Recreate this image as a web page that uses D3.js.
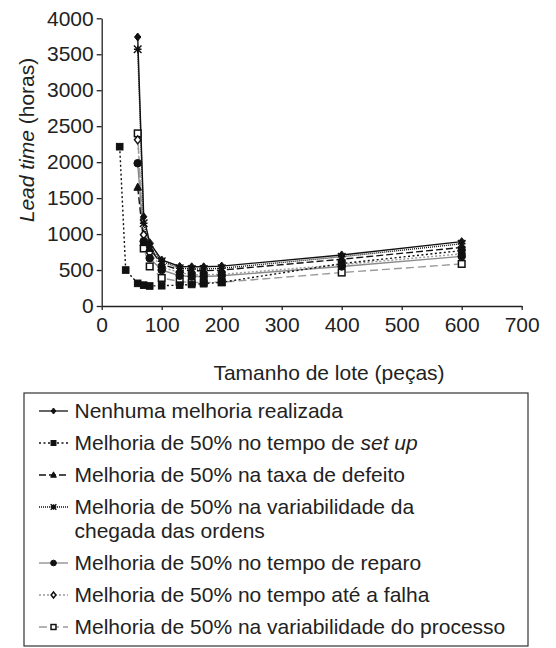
<!DOCTYPE html>
<html><head><meta charset="utf-8">
<script src="https://cdn.jsdelivr.net/npm/d3@7"></script>
<style>
html,body{margin:0;padding:0;background:#fff;}
svg{display:block;font-family:"Liberation Sans",Arial,sans-serif;}
svg text{font-family:"Liberation Sans",Arial,sans-serif;}
</style></head>
<body>
<svg id="chart" width="556" height="648"></svg>
<script>
// ---- data ----
const lotSizes = [60, 70, 80, 100, 130, 150, 170, 200, 400, 600];
const setupLotSizes = [30, 40, 60, 70, 80, 100, 130, 150, 170, 200, 400, 600];
const nenhuma  = [3740, 1240, 880, 640, 550, 545, 545, 555, 710, 895];
const setupVals = [2215, 500, 315, 290, 278, 282, 290, 300, 310, 330, 590, 770];
const defeito  = [1650, 880, 800, 580, 500, 490, 490, 500, 650, 815];
const chegada  = [3570, 1150, 820, 620, 525, 515, 515, 525, 685, 865];
const reparo   = [1985, 900, 665, 500, 420, 410, 410, 420, 550, 690];
const falha    = [2310, 990, 740, 540, 465, 435, 435, 440, 575, 725];
const processo = [2400, 800, 550, 390, 340, 325, 328, 330, 465, 585];
const xTicks = [0, 100, 200, 300, 400, 500, 600, 700];
const yTicks = [0, 500, 1000, 1500, 2000, 2500, 3000, 3500, 4000];
const legendLabels = [
  ["Nenhuma melhoria realizada"],
  ["Melhoria de 50% no tempo de ", "set up"],
  ["Melhoria de 50% na taxa de defeito"],
  ["Melhoria de 50% na variabilidade da", "chegada das ordens"],
  ["Melhoria de 50% no tempo de reparo"],
  ["Melhoria de 50% no tempo até a falha"],
  ["Melhoria de 50% na variabilidade do processo"]
];

// ---- series styling ----
const series = [
  {xs: lotSizes, ys: nenhuma, color: "#111", dash: null, width: 1.4, marker: "diamond", fill: "#111"},
  {xs: setupLotSizes, ys: setupVals, color: "#111", dash: "2,2.5", width: 1.4, marker: "square", fill: "#111"},
  {xs: lotSizes, ys: defeito, color: "#111", dash: "7,3", width: 1.4, marker: "triangle", fill: "#111"},
  {xs: lotSizes, ys: chegada, color: "#111", dash: "1,1", width: 1.4, marker: "asterisk", fill: "#111"},
  {xs: lotSizes, ys: reparo, color: "#8a8a8a", dash: null, width: 1.4, marker: "circle", fill: "#111"},
  {xs: lotSizes, ys: falha, color: "#9a9a9a", dash: "2,2", width: 1.4, marker: "odiamond", fill: "#fff"},
  {xs: lotSizes, ys: processo, color: "#9a9a9a", dash: "8,4", width: 1.4, marker: "osquare", fill: "#fff"}
];

const svg = d3.select("#chart");
const FS = 21;
const FF = "'Liberation Sans', Arial, sans-serif";
const x = d3.scaleLinear().domain([0, 700]).range([101.7, 521.7]);
const y = d3.scaleLinear().domain([0, 4000]).range([306, 18.3]);

// axes
const xAxis = svg.append("g").attr("transform", `translate(0,${y(0)})`)
  .call(d3.axisBottom(x).tickValues(xTicks).tickFormat(d3.format("d"))
    .tickSize(4).tickPadding(6).tickSizeOuter(0));
const yAxis = svg.append("g").attr("transform", `translate(${x(0)},0)`)
  .call(d3.axisLeft(y).tickValues(yTicks).tickFormat(d3.format("d"))
    .tickSize(5).tickPadding(3).tickSizeOuter(0));
[xAxis, yAxis].forEach(a => {
  a.attr("font-family", FF).attr("font-size", FS);
  a.selectAll("path,line").attr("stroke", "#222").attr("stroke-width", 1.3);
  a.selectAll("text").attr("font-size", FS).attr("fill", "#222");
});
xAxis.selectAll("text").attr("dy", "0.75em");

// axis titles
svg.append("text").attr("x", 329).attr("y", 380).attr("text-anchor", "middle")
  .attr("font-size", FS).attr("fill", "#222").text("Tamanho de lote (peças)");
const yt = svg.append("text").attr("transform", "translate(34,140) rotate(-90)")
  .attr("text-anchor", "middle").attr("font-size", FS).attr("fill", "#222");
yt.append("tspan").attr("font-style", "italic").text("Lead time");
yt.append("tspan").text(" (horas)");

// marker drawing
function drawMarker(g, type, cx, cy, fill, s) {
  s = s || 1;
  if (type === "diamond" || type === "odiamond") {
    const r = 4 * s;
    g.append("path").attr("d", `M${cx},${cy - r}L${cx + r * 0.8},${cy}L${cx},${cy + r}L${cx - r * 0.8},${cy}Z`)
      .attr("fill", fill).attr("stroke", "#111").attr("stroke-width", type === "odiamond" ? 1.5 : 1);
  } else if (type === "square" || type === "osquare") {
    const r = 3.3 * s;
    g.append("rect").attr("x", cx - r).attr("y", cy - r).attr("width", 2 * r).attr("height", 2 * r)
      .attr("fill", fill).attr("stroke", "#111").attr("stroke-width", type === "osquare" ? 1.5 : 1);
  } else if (type === "triangle") {
    const r = 4.2 * s;
    g.append("path").attr("d", `M${cx},${cy - r}L${cx + r * 0.9},${cy + r * 0.7}L${cx - r * 0.9},${cy + r * 0.7}Z`)
      .attr("fill", fill).attr("stroke", "#111").attr("stroke-width", 1);
  } else if (type === "circle") {
    g.append("circle").attr("cx", cx).attr("cy", cy).attr("r", 3.8 * s)
      .attr("fill", fill).attr("stroke", "#111").attr("stroke-width", 1);
  } else if (type === "asterisk") {
    const r = 3.8 * s;
    g.append("path").attr("d",
      `M${cx - r},${cy - r}L${cx + r},${cy + r}M${cx - r},${cy + r}L${cx + r},${cy - r}M${cx},${cy - r}L${cx},${cy + r}M${cx - r},${cy}L${cx + r},${cy}`)
      .attr("stroke", "#111").attr("stroke-width", 1.4).attr("fill", "none");
  }
}

// lines (drawn back to front)
const line = d3.line().x(d => x(d[0])).y(d => y(d[1]));
const order = [6, 5, 4, 1, 2, 3, 0];
order.forEach(i => {
  const s = series[i];
  const pts = s.xs.map((v, j) => [v, s.ys[j]]);
  svg.append("path").datum(pts).attr("d", line).attr("fill", "none")
    .attr("stroke", s.color).attr("stroke-width", s.width)
    .attr("stroke-dasharray", s.dash);
});
order.forEach(i => {
  const s = series[i];
  const g = svg.append("g");
  s.xs.forEach((v, j) => drawMarker(g, s.marker, x(v), y(s.ys[j]), s.fill));
});

// legend
svg.append("rect").attr("x", 24).attr("y", 393).attr("width", 504).attr("height", 253)
  .attr("fill", "none").attr("stroke", "#333").attr("stroke-width", 1.2);
const rowY = [411, 443, 475, 507, 563, 595, 627];
series.forEach((s, i) => {
  const cy = rowY[i];
  const g = svg.append("g");
  g.append("line").attr("x1", 39).attr("x2", 68).attr("y1", cy).attr("y2", cy)
    .attr("stroke", s.color).attr("stroke-width", 1.3).attr("stroke-dasharray", s.dash);
  drawMarker(g, s.marker, 53.5, cy, s.fill, 0.75);
  const lab = legendLabels[i];
  const t = g.append("text").attr("x", 74.5).attr("y", cy).attr("dy", "0.35em")
    .attr("font-size", FS).attr("fill", "#222");
  if (i === 1) {
    t.append("tspan").text(lab[0]);
    t.append("tspan").attr("font-style", "italic").text(lab[1]);
  } else if (i === 3) {
    t.text(lab[0]);
    g.append("text").attr("x", 74.5).attr("y", cy + 24).attr("dy", "0.35em")
      .attr("font-size", FS).attr("fill", "#222").text(lab[1]);
  } else {
    t.text(lab[0]);
  }
});
</script>
</body></html>
